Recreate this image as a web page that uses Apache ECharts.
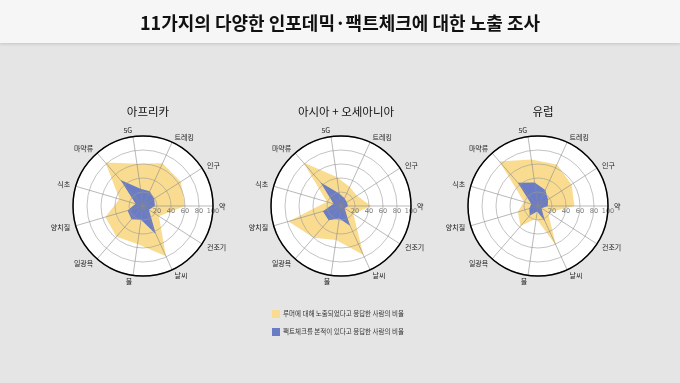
<!DOCTYPE html>
<html><head><meta charset="utf-8">
<script src="https://cdn.jsdelivr.net/npm/echarts@6/dist/echarts.min.js"></script>
<style>html,body{margin:0;padding:0;background:#e5e5e5;}#c{width:680px;height:383px;}</style>
</head><body><div id="c"></div>
<script>
const title = '11가지의 다양한 인포데믹·팩트체크에 대한 노출 조사';
const regions = ['아프리카', '아시아 + 오세아니아', '유럽'];
const categories = ['약', '인구', '트레킹', '5G', '마약류', '식초', '양치질', '일광욕', '물', '날씨', '건조기'];
const seriesNames = ['루머에 대해 노출되었다고 응답한 사람의 비율', '팩트체크를 본적이 있다고 응답한 사람의 비율'];
const rumorAfrica = [60, 64, 67, 61, 82, 35, 56, 58, 55, 79, 27];
const factAfrica  = [17, 19, 23, 25, 49, 11, 23, 25, 20, 44, 10];
const rumorAsia   = [43, 27, 30, 42, 82, 21, 78, 60, 49, 77, 21];
const factAsia    = [10, 10, 12, 18, 45, 11, 27, 27, 18, 31, 6];
const rumorEurope = [52, 57, 65, 67, 84, 21, 30, 38, 18, 62, 17];
const factEurope  = [14, 17, 25, 34, 44, 10, 13, 18, 8, 24, 6];
const radialTicks = [0, 20, 40, 60, 80, 100];

const rumorData = [rumorAfrica, rumorAsia, rumorEurope];
const factData = [factAfrica, factAsia, factEurope];
const centersX = [143, 341, 538];
const cy = 206, R = 70;
const yellow = '#f9dc8f', blue = '#6b7cc6';
const rMin = radialTicks[0], rMax = radialTicks[radialTicks.length - 1];

const radars = [], polars = [], angleAxes = [], radiusAxes = [], series = [], titles = [];
titles.push({text: title, left: 'center', top: 9, textStyle: {fontFamily: 'Noto Sans CJK KR', fontWeight: 'bold', fontSize: 18, color: '#111'}});
centersX.forEach((cx, i) => {
  titles.push({text: regions[i], left: cx, top: 101, textAlign: 'center', textStyle: {fontFamily: 'Noto Sans CJK KR', fontWeight: 'normal', fontSize: 11.5, color: '#111'}});
  radars.push({
    z: 0,
    center: [cx, cy], radius: R, startAngle: 0, shape: 'circle', splitNumber: 5,
    indicator: categories.map(n => ({name: n, min: rMin, max: rMax})),
    axisName: {color: '#222', fontSize: 7, fontFamily: 'Noto Sans CJK KR'},
    nameGap: 6,
    axisLine: {show: false},
    splitLine: {show: false},
    splitArea: {show: true, areaStyle: {color: ['#ffffff']}},
    axisTick: {show: false}, axisLabel: {show: false}
  });
  polars.push({center: [cx, cy], radius: R, z: 5});
  angleAxes.push({polarIndex: i, type: 'value', min: 0, max: 360, interval: 360 / categories.length, startAngle: 0, z: 8,
    axisLine: {show: true, lineStyle: {color: '#000', width: 1.5}},
    axisTick: {show: false}, axisLabel: {show: false},
    splitLine: {show: true, lineStyle: {color: '#8a8a8a', width: 0.6}}});
  radiusAxes.push({polarIndex: i, type: 'value', min: rMin, max: rMax, interval: 20, z: 6,
    axisLine: {show: false}, axisTick: {show: false},
    splitLine: {show: true, lineStyle: {color: '#9a9a9a', width: 0.6}},
    axisLabel: {showMinLabel: false, fontSize: 6.5, color: '#777', margin: -2, verticalAlign: 'top', fontFamily: 'DejaVu Sans'}});
  series.push({type: 'radar', radarIndex: i, symbol: 'none', z: 2,
    data: [
      {name: seriesNames[0], value: rumorData[i], itemStyle: {color: yellow}, lineStyle: {width: 0, color: yellow}, areaStyle: {color: yellow, opacity: 1}},
      {name: seriesNames[1], value: factData[i], itemStyle: {color: blue}, lineStyle: {width: 0, color: blue}, areaStyle: {color: blue, opacity: 1}}
    ]});
});

const chart = echarts.init(document.getElementById('c'), null, {renderer: 'canvas'});
chart.setOption({
  backgroundColor: '#e5e5e5',
  animation: false,
  graphic: [{type: 'rect', left: 0, top: 0, shape: {width: 680, height: 43}, z: -10,
    style: {fill: '#f6f6f6', shadowColor: 'rgba(0,0,0,0.15)', shadowBlur: 3, shadowOffsetY: 1}}],
  title: titles,
  legend: {orient: 'vertical', left: 272, top: 310, padding: 0, itemWidth: 8, itemHeight: 8, itemGap: 10,
    icon: 'rect', data: seriesNames,
    textStyle: {fontSize: 6.5, color: '#333', fontFamily: 'Noto Sans CJK KR', padding: [0, 0, 0, -2]}},
  radar: radars,
  polar: polars,
  angleAxis: angleAxes,
  radiusAxis: radiusAxes,
  series: series
});
</script></body></html>
